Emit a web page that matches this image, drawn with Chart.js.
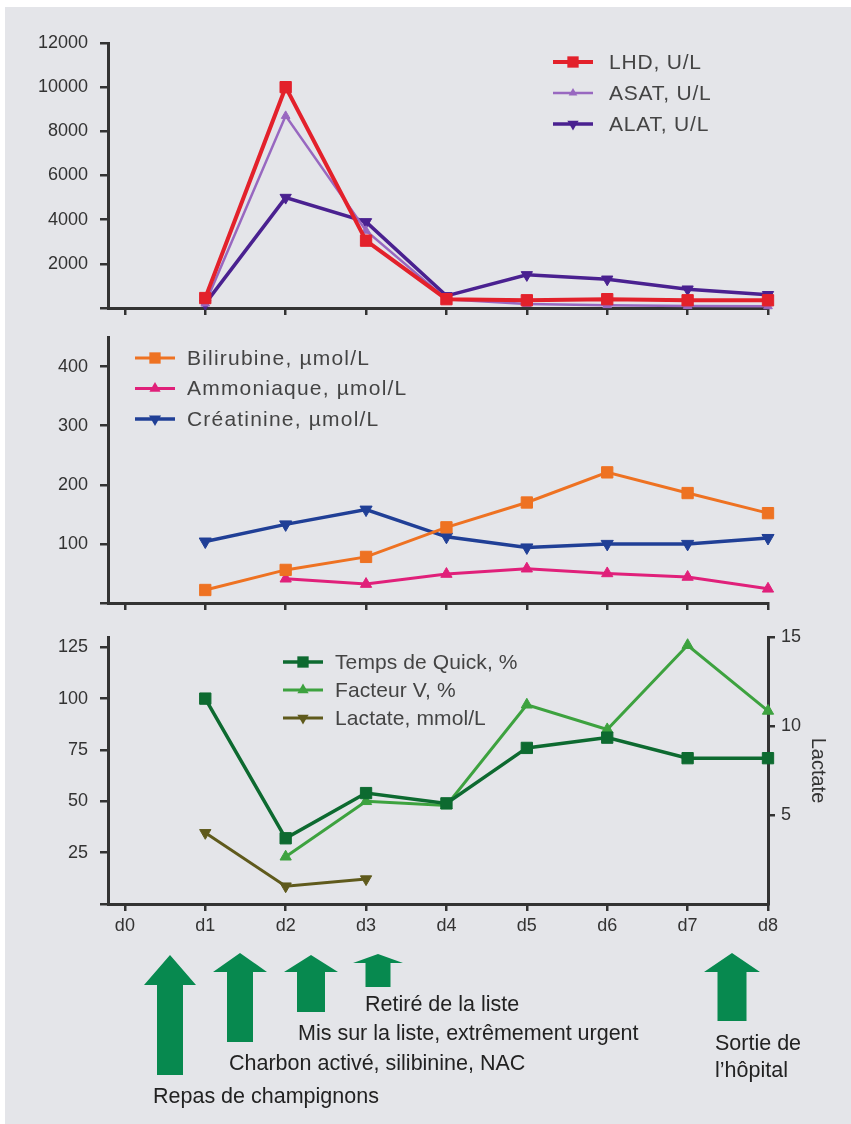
<!DOCTYPE html>
<html lang="fr">
<head>
<meta charset="utf-8">
<title>Évolution biologique</title>
<script src="https://cdn.jsdelivr.net/npm/chart.js@4.4.1/dist/chart.umd.min.js"></script>
<style>
  body { margin: 0; background: #fff; font-family: "Liberation Sans", Arial, sans-serif; }
  #panel { position: absolute; left: 5px; top: 7px; width: 846px; height: 1117px; background: #e4e5e9; }
  canvas { position: absolute; left: 0; }
  #arrows { position: absolute; left: 0; top: 0; }
  .note { position: absolute; font-size: 21.5px; color: #222; white-space: nowrap; line-height: 1; }
</style>
</head>
<body>
<div id="panel"></div>
<canvas id="chartTop" width="851" height="318" style="top:0"></canvas>
<canvas id="chartMid" width="851" height="300" style="top:318px"></canvas>
<canvas id="chartBottom" width="851" height="330" style="top:618px"></canvas>
<svg id="arrows" width="851" height="1124"></svg>
<div class="note" style="left:365px;top:994px">Retiré de la liste</div>
<div class="note" style="left:298px;top:1023px">Mis sur la liste, extrêmement urgent</div>
<div class="note" style="left:229px;top:1053px">Charbon activé, silibinine, NAC</div>
<div class="note" style="left:153px;top:1086px">Repas de champignons</div>
<div class="note" style="left:715px;top:1033px">Sortie de</div>
<div class="note" style="left:715px;top:1060px">l’hôpital</div>
<script>
const days = ['d0', 'd1', 'd2', 'd3', 'd4', 'd5', 'd6', 'd7', 'd8'];

// enzymes, U/L
const lhd  = [null, 450, 10000, 3050, 400, 350, 400, 350, 350];
const asat = [null, 200, 8700, 3500, 400, 180, 130, 90, 80];
const alat = [null, 200, 5000, 3900, 550, 1500, 1300, 850, 600];

// µmol/L
const bilirubine = [null, 22, 56, 78, 128, 170, 221, 186, 152];
const ammoniaque = [null, null, 41, 32, 49, 58, 50, 44, 24];
const creatinine = [null, 104, 133, 158, 112, 94, 100, 100, 110];

// coagulation %, lactate mmol/L
const quick    = [null, 100, 32, 54, 49, 76, 81, 71, 71];
const facteurV = [null, null, 23, 50, 48, 97, 85, 126, 94];
const lactate  = [null, 4.0, 1.0, 1.4, null, null, null, null, null];

const ticksTop = [0, 2000, 4000, 6000, 8000, 10000, 12000];
const ticksMid = [0, 100, 200, 300, 400];
const ticksBottom = [0, 25, 50, 75, 100, 125];
const ticksLactate = [5, 10, 15];

const AXIS = '#333';
const FONT = '"Liberation Sans", Arial, sans-serif';

function drawMarker(ctx, style, x, y, r, rot) {
  ctx.beginPath();
  if (style === 'rect') {
    const s = r * Math.SQRT1_2;
    ctx.rect(x - s, y - s, 2 * s, 2 * s);
  } else {
    const dir = rot ? 1 : -1;
    const h = r * 0.866;
    ctx.moveTo(x, y + dir * r);
    ctx.lineTo(x - h, y - dir * r / 2);
    ctx.lineTo(x + h, y - dir * r / 2);
    ctx.closePath();
  }
  ctx.fill();
}

// legend drawn as a short line with the marker in its middle, like the original figure
const lineLegend = {
  id: 'lineLegend',
  afterDraw(chart, args, o) {
    const ctx = chart.ctx;
    chart.data.datasets.forEach((ds, i) => {
      const y = o.y + i * o.gap;
      ctx.save();
      ctx.strokeStyle = ds.borderColor;
      ctx.fillStyle = ds.borderColor;
      ctx.lineWidth = ds.borderWidth;
      ctx.beginPath();
      ctx.moveTo(o.x, y);
      ctx.lineTo(o.x + 40, y);
      ctx.stroke();
      drawMarker(ctx, ds.pointStyle, o.x + 20, y, ds.pointRadius, ds.pointRotation);
      ctx.fillStyle = '#444';
      ctx.font = '21px ' + FONT;
      ctx.letterSpacing = o.spacing + 'px';
      ctx.textBaseline = 'middle';
      ctx.fillText(ds.label, o.x + o.textGap, y + 1);
      ctx.restore();
    });
  }
};

function series(label, values, color, style, width, radius, extra) {
  return Object.assign({
    label: label,
    data: values.map((v, i) => ({ x: i, y: v })),
    borderColor: color,
    backgroundColor: color,
    borderWidth: width,
    pointStyle: style,
    pointRadius: radius,
    pointBorderWidth: 1,
    pointRotation: 0,
    clip: false
  }, extra || {});
}

function xAxis(showLabels, height) {
  return {
    type: 'linear', min: -0.21, max: 8,
    afterBuildTicks: s => { s.ticks = days.map((d, i) => ({ value: i })); },
    afterFit: s => { s.height = height; s.paddingLeft = 0; s.paddingRight = 0; },
    ticks: { display: showLabels, callback: v => days[v], font: { size: 18, family: FONT }, color: AXIS, padding: 4, maxRotation: 0, autoSkip: false },
    grid: { drawOnChartArea: false, tickLength: 7, color: AXIS, lineWidth: 2.5 },
    border: { color: AXIS, width: 3 }
  };
}

function yAxis(max, tickList) {
  return {
    min: 0, max: max,
    afterBuildTicks: s => { s.ticks = tickList.map(v => ({ value: v })); },
    afterFit: s => { s.width = 108; s.paddingTop = 0; s.paddingBottom = 0; },
    ticks: { callback: v => v === 0 ? '' : String(v), font: { size: 18, family: FONT }, color: AXIS, padding: 12 },
    grid: { drawOnChartArea: false, tickLength: 8, color: AXIS, lineWidth: 2.5 },
    border: { color: AXIS, width: 3 }
  };
}

function makeChart(id, datasets, scales, padding, legend) {
  return new Chart(document.getElementById(id), {
    type: 'line',
    data: { datasets: datasets },
    options: {
      responsive: false,
      animation: false,
      events: [],
      layout: { padding: padding },
      plugins: { legend: { display: false }, tooltip: { enabled: false }, lineLegend: legend },
      scales: scales
    },
    plugins: [lineLegend]
  });
}

makeChart('chartTop', [
  series('LHD, U/L', lhd, '#e3212b', 'rect', 4, 8),
  series('ASAT, U/L', asat, '#9868c0', 'triangle', 2.5, 5),
  series('ALAT, U/L', alat, '#4a2190', 'triangle', 3.5, 6.5, { pointRotation: 180 })
], { x: xAxis(false, 10), y: yAxis(12000, ticksTop) },
  { top: 43, right: 83, left: 0, bottom: 0 },
  { x: 553, y: 62, gap: 31, textGap: 56, spacing: 0.8 });

makeChart('chartMid', [
  series('Bilirubine, µmol/L', bilirubine, '#ee7222', 'rect', 3, 8),
  series('Ammoniaque, µmol/L', ammoniaque, '#e0207a', 'triangle', 3, 6.5),
  series('Créatinine, µmol/L', creatinine, '#203f96', 'triangle', 3.5, 7, { pointRotation: 180 })
], { x: xAxis(false, 15), y: yAxis(450, ticksMid) },
  { top: 19, right: 83, left: 0, bottom: 0 },
  { x: 135, y: 40, gap: 30.5, textGap: 52, spacing: 1.2 });

const bottomScales = {
  x: xAxis(true, 44),
  y: yAxis(130, ticksBottom),
  y1: {
    position: 'right', min: 0, max: 15,
    afterBuildTicks: s => { s.ticks = ticksLactate.map(v => ({ value: v })); },
    afterFit: s => { s.width = 83; s.paddingTop = 0; s.paddingBottom = 0; },
    ticks: { font: { size: 18, family: FONT }, color: AXIS, padding: 6 },
    grid: { drawOnChartArea: false, tickLength: 7, color: AXIS, lineWidth: 2.5 },
    border: { color: AXIS, width: 3 },
    title: { display: true, text: 'Lactate', font: { size: 20, family: FONT }, color: AXIS, padding: { top: 21, bottom: 0 } }
  }
};

makeChart('chartBottom', [
  series('Temps de Quick, %', quick, '#0d6a30', 'rect', 3.5, 8),
  series('Facteur V, %', facteurV, '#3da23f', 'triangle', 3, 6.5),
  series('Lactate, mmol/L', lactate, '#5f5a1c', 'triangle', 3, 6.5, { pointRotation: 180, yAxisID: 'y1' })
], bottomScales,
  { top: 19, right: 0, left: 0, bottom: 0 },
  { x: 283, y: 44, gap: 28, textGap: 52, spacing: 0.1 });

// event arrows below the time axis: centre x, tip y, head base y, head half width, shaft half width, bottom y
const arrows = [
  [170, 955, 985, 26, 13, 1075],
  [240, 953, 972, 27, 13, 1042],
  [311, 955, 972, 27, 14, 1012],
  [378, 954, 963, 25, 12.5, 987],
  [732, 953, 972, 28, 14.5, 1021]
];
const svg = document.getElementById('arrows');
arrows.forEach(([cx, tip, base, hw, sw, bottom]) => {
  const p = document.createElementNS('http://www.w3.org/2000/svg', 'polygon');
  p.setAttribute('points', [
    [cx, tip], [cx + hw, base], [cx + sw, base], [cx + sw, bottom],
    [cx - sw, bottom], [cx - sw, base], [cx - hw, base]
  ].map(q => q.join(',')).join(' '));
  p.setAttribute('fill', '#07894f');
  svg.appendChild(p);
});
</script>
</body>
</html>
